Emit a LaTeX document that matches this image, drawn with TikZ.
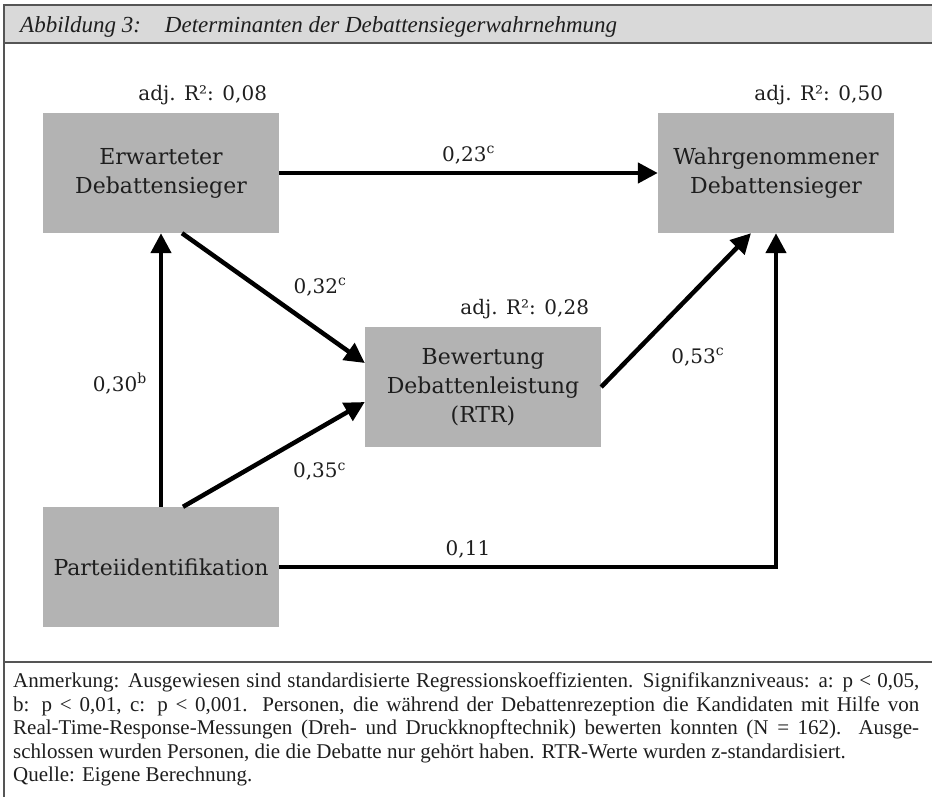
\documentclass[tikz,border=0pt]{standalone}
\usepackage{fontspec}
\setmainfont{Liberation Serif}
\newfontfamily\boxfont{DejaVu Serif}
\usepackage{xcolor}
\usetikzlibrary{positioning,arrows.meta}
\definecolor{boxgrey}{HTML}{B3B3B3}
\definecolor{bandgrey}{HTML}{D9D9D9}
\definecolor{framegrey}{HTML}{555555}
\definecolor{ink}{HTML}{1E1E1E}
\tikzset{
  var/.style={fill=boxgrey, text=ink, minimum width=236pt, minimum height=120pt, inner sep=0pt, align=center, font=\boxfont\fontsize{22}{29}\selectfont},
  coef/.style={text=ink, inner sep=2pt, font=\boxfont\fontsize{20}{24}\selectfont},
  pfeil/.style={line width=4.5pt, -{Triangle[length=20pt,width=20pt]}}
}

\begin{document}
\begin{tikzpicture}[x=1pt,y=-1pt]
\useasboundingbox (0,0) rectangle (932,797);
\fill[bandgrey] (4,5) rectangle (932,43);
\draw[framegrey, line width=2pt] (932,5) -- (4,5) -- (4,797);
\draw[framegrey, line width=2pt] (4,43) -- (932,43);
\draw[framegrey, line width=1.5pt] (4,662) -- (932,662);
\node[anchor=base west, inner sep=0pt, text=ink, font=\fontsize{23}{26}\selectfont\itshape] (titel) at (20,33) {Abbildung 3:\hspace{24pt}Determinanten der Debattensiegerwahrnehmung};

\node[var] (erw) at (161,173) {Erwarteter\\Debattensieger};
\node[var] (wahr) at (776,173) {Wahrgenommener\\Debattensieger};
\node[var] (bew) at (483,387) {Bewertung\\Debattenleistung\\(RTR)};
\node[var] (partei) at (161,567) {Parteiidentifikation};

\node[coef, anchor=base east] (r2erw) at ([xshift=-10pt,yshift=12pt]erw.north east) {adj. R²: 0,08};
\node[coef, anchor=base east] (r2wahr) at ([xshift=-9pt,yshift=12pt]wahr.north east) {adj. R²: 0,50};
\node[coef, anchor=base east] (r2bew) at ([xshift=-10pt,yshift=12pt]bew.north east) {adj. R²: 0,28};

\draw[pfeil] (erw) -- (wahr) node[coef, midway, above=5pt] {0,23\textsuperscript{c}};
\draw[pfeil] ([xshift=21pt]erw.south) -- ([yshift=24pt]bew.west) node[coef, midway, anchor=south west, xshift=16pt, yshift=-2pt] {0,32\textsuperscript{c}};
\draw[pfeil] (partei) -- (erw) node[coef, pos=0.45, left=10pt] {0,30\textsuperscript{b}};
\draw[pfeil] ([xshift=22pt]partei.north) -- ([yshift=-15pt]bew.west) node[coef, midway, anchor=north west, xshift=15pt, yshift=-4pt] {0,35\textsuperscript{c}};
\draw[pfeil] (bew.east) -- ([xshift=-25pt]wahr.south) node[coef, pos=0.28, anchor=north west, xshift=24pt] {0,53\textsuperscript{c}};
\draw[pfeil] (partei.east) -| (wahr.south) node[coef, pos=0.19, above=5pt] {0,11};

\node[anchor=north west, inner sep=0pt, text width=906pt, align=justify, text=ink, font=\fontsize{21}{23.5}\selectfont] (anm) at (13,673) {\hyphenpenalty=10000 \exhyphenpenalty=10000 Anmerkung: Ausgewiesen sind standardisierte Regressionskoeffizienten. Signifikanzniveaus: a: p < 0,05,\linebreak b: p < 0,01, c: p < 0,001. Personen, die während der Debattenrezeption die Kandidaten mit Hilfe von\linebreak Real-Time-Response-Messungen (Dreh- und Druckknopftechnik) bewerten konnten (N = 162). Ausge-\linebreak schlossen wurden Personen, die die Debatte nur gehört haben. RTR-Werte wurden z-standardisiert.\\ Quelle: Eigene Berechnung.};
\end{tikzpicture}
\end{document}
